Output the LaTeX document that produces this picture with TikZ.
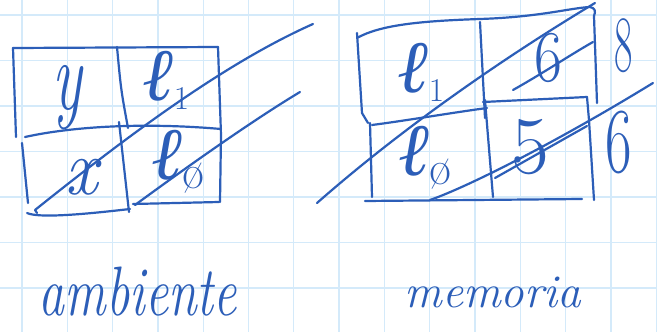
\documentclass[tikz,border=0pt]{standalone}
\usepackage{fontspec}
\usepackage{graphicx}
\newfontfamily\lsf{Liberation Serif}
\newcommand\lsub[2]{{\lsf\itshape ℓ}\raisebox{-0.12em}{\scalebox{#2}{#1}}}
\definecolor{pen}{RGB}{44,94,184}
\definecolor{gridc}{RGB}{212,234,250}
\begin{document}
\begin{tikzpicture}[x=1pt,y=-1pt,
  pen/.style={draw=pen, line width=2.2pt, line cap=round, line join=round},
  gridline/.style={draw=gridc, line width=1.3pt},
  hw/.style={text=pen, inner sep=0pt, outer sep=0pt}]
\useasboundingbox (0,0) rectangle (657,332);
\fill[white] (0,0) rectangle (657,332);
% grid paper
\foreach \i in {0,...,14} \draw[gridline] ({22+45.3*\i},0) -- ({22+45.3*\i},332);
\foreach \j in {0,...,6} \draw[gridline] (0,{15+45.5*\j}) -- (657,{15+45.5*\j});

% ---------- left table (ambiente) ----------
\coordinate (LtopL) at (13,48);
\coordinate (LtopR) at (218,47);
\draw[pen] (LtopL) -- (LtopR);
\draw[pen] (LtopL) -- (16,137);
\draw[pen] (117,47) .. controls (121,90) .. (128,128);
\draw[pen] (119,122) -- (129,212);
\draw[pen] (LtopR) -- (221,135) -- (220,202);
\draw[pen] (25,137) .. controls (70,127) and (140,122) .. (221,129);
\draw[pen] (22,143) -- (28,203);
\draw[pen] (27,213) .. controls (40,219) and (95,213) .. (130,209);
\draw[pen] (133,204) -- (219,202);
% strike lines
\draw[pen] (37,213) -- (35,210) .. controls (125,138) and (223,64) .. (313,24);
\draw[pen] (135,205) .. controls (180,172) and (250,122) .. (300,92);

\node[hw, font=\fontsize{100}{100}\selectfont\itshape] (ly) at (67,98) {\scalebox{0.62}[1]{y}};
\node[hw, font=\fontsize{74}{74}\selectfont] (ll1) at (166,80) {\lsub{1}{0.45}};
\node[hw, font=\fontsize{80}{80}\selectfont\itshape] (lx) at (82,177) {\scalebox{0.9}[1]{x}};
\node[hw, font=\fontsize{74}{74}\selectfont] (ll0) at (178,162) {\lsub{ø}{0.65}};

% ---------- right table (memoria) ----------
\draw[pen] (357,38) .. controls (380,25) and (420,21) .. (480,19)
  .. controls (540,17) and (570,8) .. (590,7) .. controls (595,8) and (596,11) .. (594,16);
\draw[pen] (594,16) -- (597,103);
\draw[pen] (357,33) -- (362,113) -- (368,123);
\draw[pen] (480,22) -- (485,118);
\draw[pen] (372,125) .. controls (410,120) and (450,113) .. (487,108);
\draw[pen] (483,102) -- (587,97);
\draw[pen] (587,97) -- (589,120) -- (594,200);
\draw[pen] (370,123) -- (372,197);
\draw[pen] (485,100) -- (493,197);
\draw[pen] (365,201) -- (582,199);
% strike lines
\draw[pen] (317,203) .. controls (400,130) and (500,60) .. (595,3);
\draw[pen] (513,90) .. controls (545,72) and (570,55) .. (593,42);
\draw[pen] (430,200) .. controls (470,186) and (560,140) .. (653,83);
\draw[pen] (495,178) -- (587,126);

\node[hw, font=\fontsize{74}{74}\selectfont] (rl1) at (421,72) {\lsub{1}{0.45}};
\node[hw, font=\fontsize{73}{73}\selectfont] (r6) at (548,58) {\scalebox{0.83}[1]{6}};
\node[hw, font=\fontsize{74}{74}\selectfont] (rl0) at (425,158) {\lsub{ø}{0.65}};
\node[hw, font=\fontsize{82}{82}\selectfont] (r5) at (530,147) {5};
\node[hw, font=\fontsize{80}{80}\selectfont] (r8) at (624,46) {\scalebox{0.5}[1]{8}};
\node[hw, font=\fontsize{93}{93}\selectfont] (r6b) at (619,143) {\scalebox{0.62}[1]{6}};

% ---------- captions ----------
\node[hw, anchor=base, font=\fontsize{70}{70}\selectfont\itshape] (amb) at (138,315) {\scalebox{0.74}[1]{ambiente}};
\node[hw, anchor=base, font=\fontsize{47}{47}\selectfont\itshape] (mem) at (493,307) {memoria};
\end{tikzpicture}
\end{document}
